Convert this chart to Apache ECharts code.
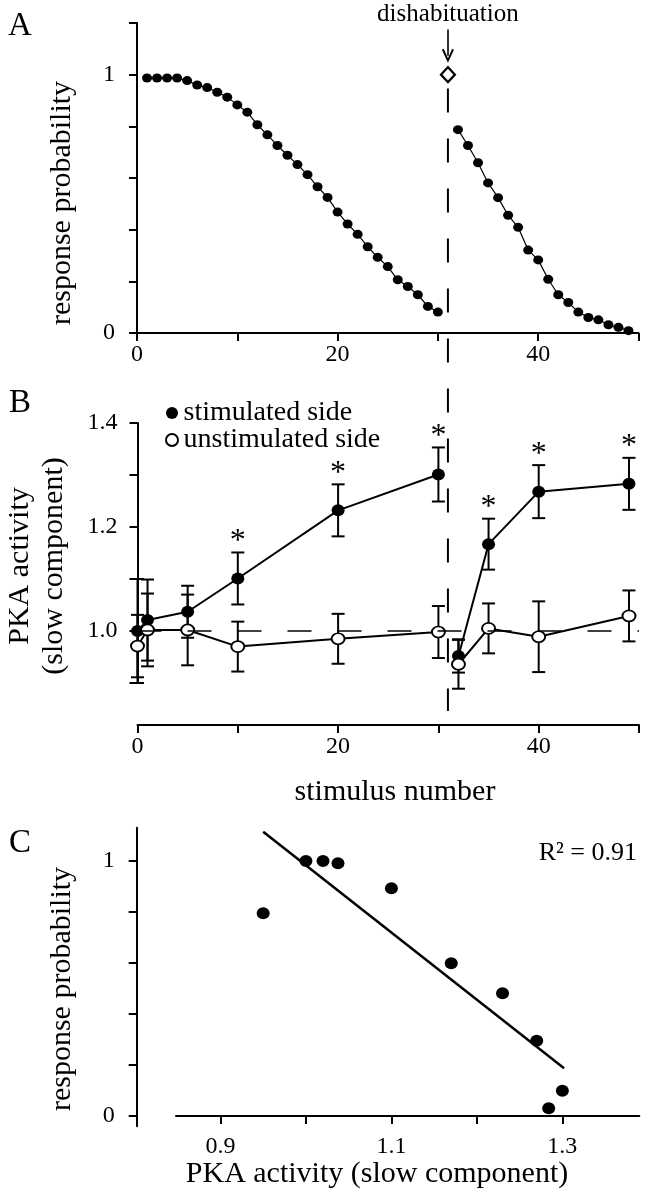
<!DOCTYPE html>
<html><head><meta charset="utf-8">
<script src="https://cdn.jsdelivr.net/npm/echarts@6.0.0/dist/echarts.min.js"></script>
<style>html,body{margin:0;padding:0;background:#fff}#c{width:654px;height:1199px}</style>
</head><body><div id="c"></div>
<script>
// ---------- Panel A: response probability vs stimulus number ----------
const habX1 = [1,2,3,4,5,6,7,8,9,10,11,12,13,14,15,16,17,18,19,20,21,22,23,24,25,26,27,28,29,30];
const habY1 = [0.987,0.987,0.987,0.987,0.977,0.96,0.95,0.932,0.913,0.883,0.855,0.806,0.767,0.726,0.688,0.652,0.613,0.566,0.525,0.468,0.422,0.382,0.334,0.293,0.257,0.206,0.18,0.148,0.103,0.081];
const habX2 = [32,33,34,35,36,37,38,39,40,41,42,43,44,45,46,47,48,49];
const habY2 = [0.787,0.726,0.659,0.581,0.524,0.456,0.409,0.321,0.283,0.208,0.148,0.118,0.081,0.06,0.051,0.032,0.022,0.009];
const dishabX = 31;          // dishabituating stimulus
const dishabY = 1.0;
const dishabLabel = 'dishabituation';

// ---------- Panel B: PKA activity ----------
const pkaX      = [0, 1, 5, 10, 20, 30, 32, 35, 40, 49];
const stimY     = [1.0, 1.021, 1.037, 1.101, 1.232, 1.301, 0.952, 1.167, 1.268, 1.283];
const stimErr   = [0.1, 0.078, 0.05, 0.05, 0.05, 0.052, 0.032, 0.049, 0.051, 0.05];
const stimSig   = [0, 0, 0, 1, 1, 1, 0, 1, 1, 1];
const unstimY   = [0.971, 1.002, 1.002, 0.97, 0.985, 0.998, 0.936, 1.005, 0.989, 1.029];
const unstimErr = [0.06, 0.07, 0.068, 0.048, 0.048, 0.05, 0.047, 0.048, 0.068, 0.049];
const breakIndex = 6;       // series break at dishabituation
const baselineY = 1.0;

// ---------- Panel C: correlation ----------
const corrX = [0.95, 1.0, 1.02, 1.0375, 1.10, 1.17, 1.23, 1.27, 1.30, 1.284];
const corrY = [0.795, 1.0, 1.0, 0.991, 0.893, 0.599, 0.481, 0.295, 0.099, 0.030];
const fitX = [0.95, 1.302];
const fitY = [1.115, 0.187];
const r2Text = 'R\u00B2 = 0.91';

const FONT = '"Liberation Serif","Times New Roman",serif';
const BLACK = '#000';

const zip = (xs, ys) => xs.map((x, i) => [x, ys[i]]);
const errData = (ys, es, sig) => pkaX.map((x, i) => [x, ys[i], es[i], sig ? sig[i] : 0]);

const axLine = {show: true, lineStyle: {color: BLACK, width: 2}};
const axTick = (extra) => Object.assign({show: true, length: 8, lineStyle: {color: BLACK, width: 2}}, extra || {});
const lbl = (extra) => Object.assign({color: BLACK, fontSize: 24, fontFamily: FONT}, extra || {});

function errRender(params, api) {
  const x = api.value(0), y = api.value(1), e = api.value(2), s = api.value(3);
  const t = api.coord([x, y + e]), b = api.coord([x, y - e]);
  const w = 6.5;
  const st = {stroke: BLACK, lineWidth: 2};
  const ch = [
    {type: 'line', shape: {x1: t[0], y1: t[1], x2: b[0], y2: b[1]}, style: st},
    {type: 'line', shape: {x1: t[0] - w, y1: t[1], x2: t[0] + w, y2: t[1]}, style: st},
    {type: 'line', shape: {x1: b[0] - w, y1: b[1], x2: b[0] + w, y2: b[1]}, style: st}
  ];
  if (s) ch.push({type: 'text', x: t[0], y: t[1] - 11,
    style: {text: '*', fontSize: 32, fontFamily: FONT, fill: BLACK,
            align: 'center', verticalAlign: 'middle', textAlign: 'center', textVerticalAlign: 'middle'}});
  return {type: 'group', children: ch};
}

function gtext(text, x, y, size, rot, align) {
  return {type: 'text', x: x, y: y, rotation: rot || 0,
    style: {text: text, fontSize: size, fontFamily: FONT, fill: BLACK,
      align: align || 'center', verticalAlign: 'middle',
      textAlign: align || 'center', textVerticalAlign: 'middle'}};
}

const chart = echarts.init(document.getElementById('c'), null, {renderer: 'canvas'});
chart.setOption({
  animation: false,
  backgroundColor: '#fff',
  grid: [
    {left: 137, top: 23, width: 501.5, height: 310},       // A
    {left: 137.5, top: 423, width: 501.5, height: 260},    // B y-axis
    {left: 137.5, top: 423, width: 501.5, height: 302},    // B data + x-axis
    {left: 136.7, top: 827.85, width: 502, height: 298.35},// C y-axis
    {left: 176, top: 827.85, width: 463.3, height: 298.35} // C data + x-axis
  ],
  xAxis: [
    {gridIndex: 0, type: 'value', min: 0, max: 50, interval: 10, axisLine: axLine, axisTick: axTick(),
     splitLine: {show: false}, axisLabel: lbl({margin: 10, formatter: v => (v % 20 === 0 && v < 50 ? String(v) : '')})},
    {gridIndex: 1, type: 'value', min: 0, max: 50, show: false},
    {gridIndex: 2, type: 'value', min: 0, max: 50, interval: 10, axisLine: axLine, axisTick: axTick(),
     splitLine: {show: false}, axisLabel: lbl({margin: 10, formatter: v => (v % 20 === 0 && v < 50 ? String(v) : '')})},
    {gridIndex: 3, type: 'value', min: 0.8, max: 1.39, show: false},
    {gridIndex: 4, type: 'value', min: 0.848, max: 1.39, axisLine: Object.assign({onZero: true}, axLine),
     axisTick: axTick({customValues: [0.9, 1.0, 1.1, 1.2, 1.3]}), splitLine: {show: false},
     axisLabel: lbl({margin: 9, customValues: [0.9, 1.1, 1.3], formatter: v => v.toFixed(1)})}
  ],
  yAxis: [
    {gridIndex: 0, type: 'value', min: 0, max: 1.2, interval: 0.2, axisLine: axLine, axisTick: axTick(),
     splitLine: {show: false},
     axisLabel: lbl({margin: 22, formatter: v => (Math.abs(v) < 1e-9 ? '0' : (Math.abs(v - 1) < 1e-9 ? '1' : ''))})},
    {gridIndex: 1, type: 'value', min: 0.9, max: 1.4, axisLine: axLine,
     axisTick: axTick({customValues: [0.9, 1.0, 1.1, 1.2, 1.3, 1.4]}), splitLine: {show: false},
     axisLabel: lbl({margin: 20, customValues: [1.0, 1.2, 1.4], formatter: v => v.toFixed(1)})},
    {gridIndex: 2, type: 'value', min: 0.8192, max: 1.4, show: false},
    {gridIndex: 3, type: 'value', min: -0.04, max: 1.13, axisLine: axLine,
     axisTick: axTick({customValues: [0, 0.2, 0.4, 0.6, 0.8, 1.0]}), splitLine: {show: false},
     axisLabel: lbl({margin: 22, customValues: [0, 1], formatter: v => (Math.abs(v) < 1e-9 ? '0' : '1')})},
    {gridIndex: 4, type: 'value', min: -0.04, max: 1.13, show: false}
  ],
  legend: {
    orient: 'vertical', left: 160, top: 394, itemWidth: 13, itemHeight: 12, itemGap: -1,
    icon: 'circle', selectedMode: false,
    data: ['stimulated side', 'unstimulated side'],
    textStyle: {color: BLACK, fontSize: 28, fontFamily: FONT, lineHeight: 22}
  },
  series: [
    // ---- A ----
    {type: 'line', xAxisIndex: 0, yAxisIndex: 0, data: zip(habX1, habY1), symbol: 'circle', symbolSize: [10, 9],
     itemStyle: {color: BLACK}, lineStyle: {color: BLACK, width: 1.2}, z: 3},
    {type: 'line', xAxisIndex: 0, yAxisIndex: 0, data: zip(habX2, habY2), symbol: 'circle', symbolSize: [10, 9],
     itemStyle: {color: BLACK}, lineStyle: {color: BLACK, width: 1.2}, z: 3},
    {type: 'line', xAxisIndex: 0, yAxisIndex: 0, data: [[dishabX, 0.946], [dishabX, -1.463]], symbol: 'none',
     clip: false, lineStyle: {color: BLACK, width: 2, type: [24, 26]}, z: 2, silent: true},
    {type: 'scatter', xAxisIndex: 0, yAxisIndex: 0, data: [[dishabX, dishabY]], symbol: 'diamond', symbolSize: [14, 15],
     itemStyle: {color: '#fff', borderColor: BLACK, borderWidth: 2.2, opacity: 1}, z: 4,
     markLine: {silent: true, animation: false, symbol: ['none', 'path://M0,12 L6,0 L12,12 L10.2,12.9 L6,4.2 L1.8,12.9 Z'],
       symbolSize: [12, 14],
       lineStyle: {color: BLACK, width: 1.6, type: 'solid'},
       label: {show: true, position: 'start', formatter: dishabLabel, color: BLACK, fontSize: 25, fontFamily: FONT, distance: 3},
       data: [[{coord: [dishabX, 1.175]}, {coord: [dishabX, 1.073]}]]}},
    // ---- B ----
    {type: 'custom', xAxisIndex: 2, yAxisIndex: 2, data: errData(stimY, stimErr, stimSig), renderItem: errRender,
     clip: false, z: 1, silent: true},
    {type: 'custom', xAxisIndex: 2, yAxisIndex: 2, data: errData(unstimY, unstimErr, null), renderItem: errRender,
     clip: false, z: 1, silent: true},
    {name: 'stimulated side', type: 'line', xAxisIndex: 2, yAxisIndex: 2,
     data: zip(pkaX, stimY).slice(0, breakIndex), symbol: 'circle', symbolSize: [13, 12],
     itemStyle: {color: BLACK}, lineStyle: {color: BLACK, width: 2}, z: 3,
     markLine: {silent: true, symbol: 'none', label: {show: false},
       lineStyle: {color: BLACK, width: 1.5, type: [24, 26]}, data: [{yAxis: baselineY}]}},
    {name: 'stimulated side', type: 'line', xAxisIndex: 2, yAxisIndex: 2,
     data: zip(pkaX, stimY).slice(breakIndex), symbol: 'circle', symbolSize: [13, 12],
     itemStyle: {color: BLACK}, lineStyle: {color: BLACK, width: 2}, z: 3},
    {name: 'unstimulated side', type: 'line', xAxisIndex: 2, yAxisIndex: 2,
     data: zip(pkaX, unstimY).slice(0, breakIndex), symbol: 'circle', symbolSize: [13, 11],
     itemStyle: {color: '#fff', borderColor: BLACK, borderWidth: 1.8}, lineStyle: {color: BLACK, width: 2}, z: 4},
    {name: 'unstimulated side', type: 'line', xAxisIndex: 2, yAxisIndex: 2,
     data: zip(pkaX, unstimY).slice(breakIndex), symbol: 'circle', symbolSize: [13, 11],
     itemStyle: {color: '#fff', borderColor: BLACK, borderWidth: 1.8}, lineStyle: {color: BLACK, width: 2}, z: 4},
    // ---- C ----
    {type: 'line', xAxisIndex: 4, yAxisIndex: 4, data: zip(fitX, fitY), symbol: 'none',
     lineStyle: {color: BLACK, width: 2.5}, z: 2},
    {type: 'scatter', xAxisIndex: 4, yAxisIndex: 4, data: zip(corrX, corrY), symbol: 'circle', symbolSize: [13, 12],
     itemStyle: {color: BLACK, opacity: 1}, z: 3}
  ],
  graphic: [
    gtext('A', 20, 26, 33),
    gtext('B', 20, 403, 33),
    gtext('C', 20, 843, 33),
    gtext('response probability', 62, 203, 30, Math.PI / 2),
    gtext('PKA activity', 20, 566, 30, Math.PI / 2),
    gtext('(slow component)', 54, 566, 30, Math.PI / 2),
    gtext('stimulus number', 395, 792, 30),
    gtext('response probability', 62, 989, 30, Math.PI / 2),
    gtext('PKA activity (slow component)', 377, 1174, 30),
    gtext(r2Text, 637, 853, 26, 0, 'right')
  ]
});
</script></body></html>
